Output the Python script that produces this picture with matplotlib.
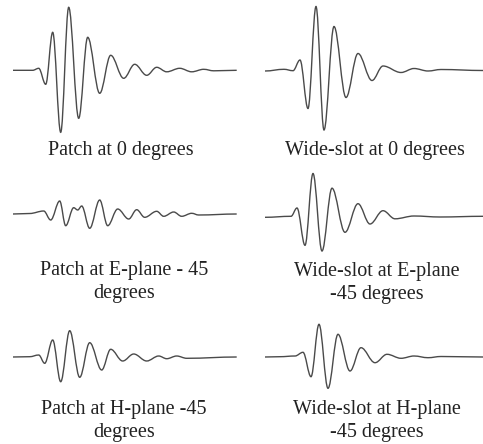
import matplotlib
matplotlib.use("Agg")
import matplotlib.pyplot as plt
from matplotlib.path import Path
from matplotlib.patches import PathPatch

# extrema: time (arb. units) and amplitude (arb. units)
patch_0_t = [0, 20, 26, 33, 40, 48, 56, 66, 75, 87, 98, 111, 122, 134, 144, 154, 167, 179, 191, 201, 224]
patch_0_a = [0, 0, 2, -14, 38, -62, 63, -48, 33, -23, 15, -8, 6, -5, 3, -1.5, 2, -1.5, 1, -0.5, 0]

slot_0_t = [0, 19, 28, 35, 43, 51, 59, 69, 81, 93, 107, 118, 136, 149, 163, 176, 218]
slot_0_a = [-0.5, 1.2, -0.2, 10.5, -38, 64, -59.5, 44, -27, 17, -10, 4.5, -2, 2, -0.5, 1, 0]

patch_e_t = [0, 17, 31, 38, 47, 53, 61, 65, 69, 77, 87, 95, 105, 116, 124, 132, 144, 151, 161, 169, 179, 186, 224]
patch_e_a = [0, 0.5, 3, -6, 13, -11.7, 6.3, 4, 8, -14.3, 14, -11.7, 5, -5, 4.3, -3.3, 2.7, -2.3, 2, -2.3, 0.7, -1, 0]

slot_e_t = [0, 26, 32, 40, 48, 57, 67, 80, 93, 105, 118, 130, 149, 175, 218]
slot_e_a = [-0.8, 0.2, 8.5, -28.8, 43, -34.5, 28.3, -15.8, 12.8, -7.5, 5.8, -2.3, 0.5, -0.5, 0.2]

patch_h_t = [0, 17, 26, 32, 40, 48, 57, 67, 77, 89, 98, 110, 121, 134, 146, 154, 164, 174, 224]
patch_h_a = [0, 0.3, 2, -6.3, 17, -24.7, 26.3, -20.3, 14.3, -13, 7.7, -4, 3, -4, 1, -1.7, 1, -1.3, 0]

slot_h_t = [0, 15, 30, 38, 46, 54, 63, 73, 85, 96, 110, 122, 136, 149, 163, 176, 218]
slot_h_a = [0, 0.3, 1, 4.7, -19.7, 32.7, -31.3, 22.7, -14, 9.3, -5.7, 2.7, -1.3, 1, -0.7, 0.5, 0]

captions = [
    "Patch at 0 degrees",
    "Wide-slot at 0 degrees",
    "Patch at E-plane - 45\ndegrees",
    "Wide-slot at E-plane\n-45 degrees",
    "Patch at H-plane -45\ndegrees",
    "Wide-slot at H-plane\n-45 degrees",
]

W, H = 483, 444
# (left px, baseline px, width px, caption x, caption top y)
layout = [
    (12.7, 70.3, 224, 121, 141),
    (265, 70.5, 218, 375, 141),
    (12.7, 214, 224, 124, 261),
    (265, 216.5, 218, 377, 262),
    (12.7, 357, 224, 124, 400),
    (265, 357, 218, 377, 400),
]
series = [(patch_0_t, patch_0_a), (slot_0_t, slot_0_a), (patch_e_t, patch_e_a),
          (slot_e_t, slot_e_a), (patch_h_t, patch_h_a), (slot_h_t, slot_h_a)]


def smooth_path(t, a, k=0.36):
    # cubic bezier through the extrema, flat tangent at each one
    verts = [(t[0], a[0])]
    codes = [Path.MOVETO]
    for i in range(1, len(t)):
        dx = t[i] - t[i - 1]
        verts += [(t[i - 1] + k * dx, a[i - 1]), (t[i] - k * dx, a[i]), (t[i], a[i])]
        codes += [Path.CURVE4] * 3
    return Path(verts, codes)


fig = plt.figure(figsize=(W / 100, H / 100), dpi=100)
half = 72
for (t, a), (left, base, width, cx, cy), cap in zip(series, layout, captions):
    ax = fig.add_axes([left / W, (H - base - half) / H, width / W, 2 * half / H])
    ax.add_patch(PathPatch(smooth_path(t, a), fill=False, edgecolor="#4a4a4a", lw=1.0))
    ax.set_xlim(0, width)
    ax.set_ylim(-half, half)
    ax.axis("off")
    fig.text(cx / W, 1 - cy / H, cap, ha="center", va="top", multialignment="center",
             family="Liberation Serif", fontsize=14.5, color="#222222", linespacing=1.3)

fig.savefig("out.png", dpi=100, facecolor="white")
